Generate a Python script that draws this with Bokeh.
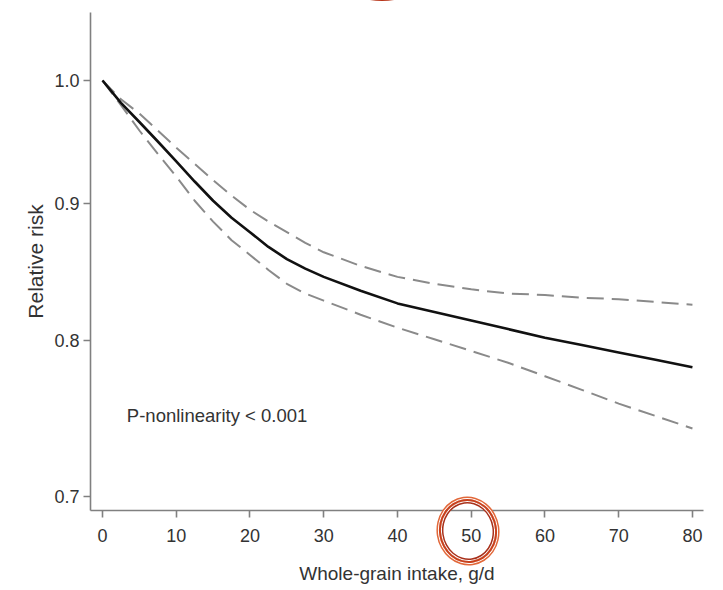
from bokeh.plotting import figure
from bokeh.models import Range1d, FixedTicker, PrintfTickFormatter, ColumnDataSource, InlineStyleSheet
from bokeh.core.properties import value
from bokeh.embed import file_html
from bokeh.resources import INLINE

# Data
intake = [0, 2.5, 5, 7.5, 10, 12.5, 15, 17.5, 20, 22.5, 25, 27.5, 30, 35, 40, 45, 50,
          55, 60, 65, 70, 75, 80]
rr = [1.000, 0.981, 0.965, 0.949, 0.933, 0.917, 0.902, 0.889, 0.878, 0.867, 0.858, 0.851,
      0.845, 0.835, 0.826, 0.820, 0.814, 0.808, 0.802, 0.797, 0.792, 0.787, 0.782]
rr_upper = [1.000, 0.984, 0.972, 0.958, 0.944, 0.931, 0.918, 0.906, 0.895, 0.886, 0.878,
            0.870, 0.863, 0.853, 0.845, 0.840, 0.836, 0.833, 0.832, 0.830, 0.829, 0.827, 0.825]
rr_lower = [1.000, 0.979, 0.958, 0.939, 0.921, 0.902, 0.886, 0.872, 0.861, 0.850, 0.840,
            0.833, 0.828, 0.818, 0.809, 0.801, 0.793, 0.785, 0.776, 0.767, 0.758, 0.750, 0.742]
x_ticks = [0, 10, 20, 30, 40, 50, 60, 70, 80]
y_ticks = [0.7, 0.8, 0.9, 1.0]
note_text = ["P-nonlinearity < 0.001"]
note_x = [3.3]
note_y = [0.750]

src = ColumnDataSource(dict(x=intake, rr=rr, up=rr_upper, lo=rr_lower))

# Hand-drawn red highlight marks of the reference (decoration, not data)
ring_css = """
:host { position: relative; }
:host::after {
  content: ""; position: absolute; left: 439px; top: 499px;
  width: 54px; height: 60px; border: 2px solid #c8401c; border-radius: 50%;
  box-shadow: 0 0 0 1px #ffffff, 0 0 0 2.5px #e2683a,
              inset 0 0 0 1px #ffffff, inset 0 0 0 2.5px #a8301a;
  transform: rotate(-8deg); pointer-events: none; z-index: 10;
}
:host::before {
  content: ""; position: absolute; left: 315px; top: -133px;
  width: 130px; height: 130px; border: 2.5px solid #b8361a; border-radius: 50%;
  pointer-events: none; z-index: 10;
}
"""

p = figure(width=723, height=590, x_range=Range1d(-1.63, 81.5), y_range=Range1d(0.6916, 1.06),
           y_axis_type="log", output_backend="svg", toolbar_location=None,
           min_border_left=90, min_border_right=20, min_border_top=12, min_border_bottom=80,
           stylesheets=[InlineStyleSheet(css=ring_css)])
p.outline_line_color = None
p.xgrid.visible = False
p.ygrid.visible = False
p.background_fill_color = "white"

p.line("x", "up", source=src, line_color="#8a8a8a", line_width=2, line_dash="17 8")
p.line("x", "lo", source=src, line_color="#8a8a8a", line_width=2, line_dash="17 8")
p.line("x", "rr", source=src, line_color="#111111", line_width=2.6)

p.text(x=note_x, y=note_y, text=note_text, text_font=value("Liberation Sans"),
       text_font_size="18.5px", text_color="#333333", text_baseline="middle", text_align="left")

p.xaxis.ticker = FixedTicker(ticks=x_ticks, minor_ticks=[])
p.yaxis.ticker = FixedTicker(ticks=y_ticks, minor_ticks=[])
p.yaxis.formatter = PrintfTickFormatter(format="%.1f")
p.xaxis.axis_label = "Whole-grain intake, g/d"
p.yaxis.axis_label = "Relative risk"

for ax in (p.xaxis[0], p.yaxis[0]):
    ax.axis_line_color = "#808080"
    ax.axis_line_width = 1.6
    ax.major_tick_line_color = "#808080"
    ax.major_tick_line_width = 1.6
    ax.major_tick_out = 7
    ax.major_tick_in = 0
    ax.minor_tick_out = 0
    ax.minor_tick_in = 0
    ax.major_label_text_font = "Liberation Sans"
    ax.major_label_text_font_size = "18px"
    ax.major_label_text_color = "#333333"
    ax.axis_label_text_font = "Liberation Sans"
    ax.axis_label_text_font_style = "normal"
    ax.axis_label_text_color = "#333333"

p.xaxis.major_label_standoff = 11
p.yaxis.major_label_standoff = 4
p.xaxis.axis_label_text_font_size = "19px"
p.xaxis.axis_label_standoff = 18
p.yaxis.axis_label_text_font_size = "21px"
p.yaxis.axis_label_standoff = 4

open("out.html", "w").write(file_html(p, INLINE))
